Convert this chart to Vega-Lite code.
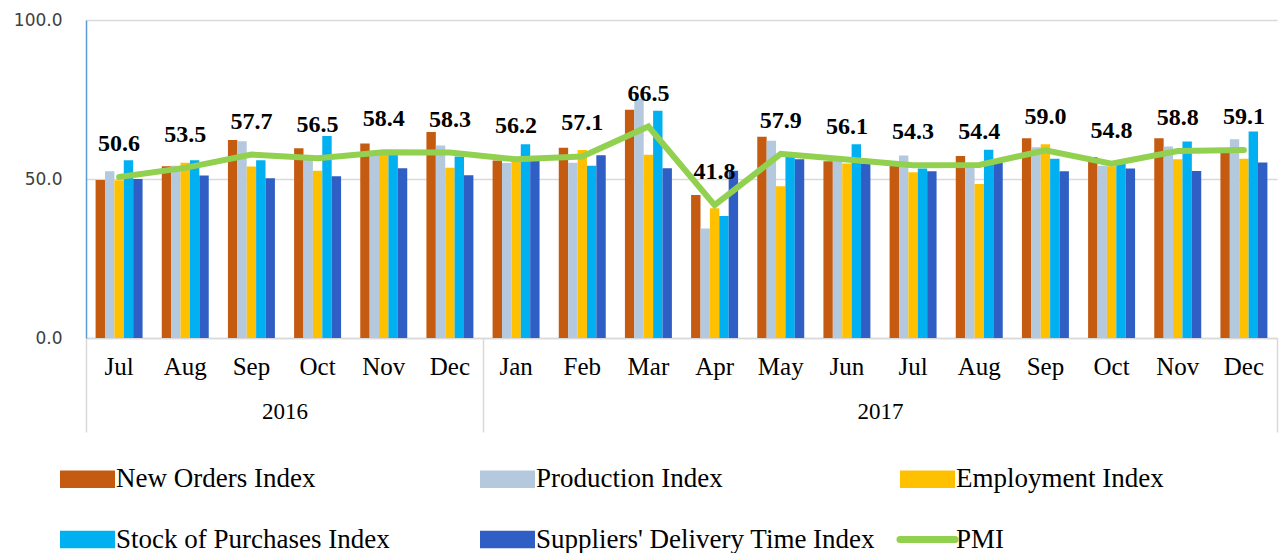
{
  "$schema": "https://vega.github.io/schema/vega-lite/v6.json",
  "width": 1191,
  "height": 318,
  "autosize": {"type": "none"},
  "padding": {"left": 86, "top": 20, "right": 5, "bottom": 215},
  "background": "white",
  "config": {"view": {"stroke": null}},
  "layer": [
    {
      "data": {"values": [
        {"period": "Jul 2016", "series": "New Orders Index", "value": 49.7},
        {"period": "Jul 2016", "series": "Production Index", "value": 52.4},
        {"period": "Jul 2016", "series": "Employment Index", "value": 49.6},
        {"period": "Jul 2016", "series": "Stock of Purchases Index", "value": 55.9},
        {"period": "Jul 2016", "series": "Suppliers' Delivery Time Index", "value": 50.0},
        {"period": "Jul 2016", "series": "PMI", "value": 50.6},
        {"period": "Aug 2016", "series": "New Orders Index", "value": 54.0},
        {"period": "Aug 2016", "series": "Production Index", "value": 54.2},
        {"period": "Aug 2016", "series": "Employment Index", "value": 55.1},
        {"period": "Aug 2016", "series": "Stock of Purchases Index", "value": 55.9},
        {"period": "Aug 2016", "series": "Suppliers' Delivery Time Index", "value": 51.1},
        {"period": "Aug 2016", "series": "PMI", "value": 53.5},
        {"period": "Sep 2016", "series": "New Orders Index", "value": 62.3},
        {"period": "Sep 2016", "series": "Production Index", "value": 61.9},
        {"period": "Sep 2016", "series": "Employment Index", "value": 53.9},
        {"period": "Sep 2016", "series": "Stock of Purchases Index", "value": 55.9},
        {"period": "Sep 2016", "series": "Suppliers' Delivery Time Index", "value": 50.2},
        {"period": "Sep 2016", "series": "PMI", "value": 57.7},
        {"period": "Oct 2016", "series": "New Orders Index", "value": 59.7},
        {"period": "Oct 2016", "series": "Production Index", "value": 56.3},
        {"period": "Oct 2016", "series": "Employment Index", "value": 52.6},
        {"period": "Oct 2016", "series": "Stock of Purchases Index", "value": 63.5},
        {"period": "Oct 2016", "series": "Suppliers' Delivery Time Index", "value": 50.9},
        {"period": "Oct 2016", "series": "PMI", "value": 56.5},
        {"period": "Nov 2016", "series": "New Orders Index", "value": 61.2},
        {"period": "Nov 2016", "series": "Production Index", "value": 58.5},
        {"period": "Nov 2016", "series": "Employment Index", "value": 57.6},
        {"period": "Nov 2016", "series": "Stock of Purchases Index", "value": 58.3},
        {"period": "Nov 2016", "series": "Suppliers' Delivery Time Index", "value": 53.4},
        {"period": "Nov 2016", "series": "PMI", "value": 58.4},
        {"period": "Dec 2016", "series": "New Orders Index", "value": 64.8},
        {"period": "Dec 2016", "series": "Production Index", "value": 60.5},
        {"period": "Dec 2016", "series": "Employment Index", "value": 53.5},
        {"period": "Dec 2016", "series": "Stock of Purchases Index", "value": 57.1},
        {"period": "Dec 2016", "series": "Suppliers' Delivery Time Index", "value": 51.2},
        {"period": "Dec 2016", "series": "PMI", "value": 58.3},
        {"period": "Jan 2017", "series": "New Orders Index", "value": 55.8},
        {"period": "Jan 2017", "series": "Production Index", "value": 55.0},
        {"period": "Jan 2017", "series": "Employment Index", "value": 55.6},
        {"period": "Jan 2017", "series": "Stock of Purchases Index", "value": 60.9},
        {"period": "Jan 2017", "series": "Suppliers' Delivery Time Index", "value": 55.7},
        {"period": "Jan 2017", "series": "PMI", "value": 56.2},
        {"period": "Feb 2017", "series": "New Orders Index", "value": 59.8},
        {"period": "Feb 2017", "series": "Production Index", "value": 55.1},
        {"period": "Feb 2017", "series": "Employment Index", "value": 59.1},
        {"period": "Feb 2017", "series": "Stock of Purchases Index", "value": 54.2},
        {"period": "Feb 2017", "series": "Suppliers' Delivery Time Index", "value": 57.5},
        {"period": "Feb 2017", "series": "PMI", "value": 57.1},
        {"period": "Mar 2017", "series": "New Orders Index", "value": 71.8},
        {"period": "Mar 2017", "series": "Production Index", "value": 75.2},
        {"period": "Mar 2017", "series": "Employment Index", "value": 57.6},
        {"period": "Mar 2017", "series": "Stock of Purchases Index", "value": 71.5},
        {"period": "Mar 2017", "series": "Suppliers' Delivery Time Index", "value": 53.4},
        {"period": "Mar 2017", "series": "PMI", "value": 66.5},
        {"period": "Apr 2017", "series": "New Orders Index", "value": 45.0},
        {"period": "Apr 2017", "series": "Production Index", "value": 34.4},
        {"period": "Apr 2017", "series": "Employment Index", "value": 40.8},
        {"period": "Apr 2017", "series": "Stock of Purchases Index", "value": 38.4},
        {"period": "Apr 2017", "series": "Suppliers' Delivery Time Index", "value": 52.6},
        {"period": "Apr 2017", "series": "PMI", "value": 41.8},
        {"period": "May 2017", "series": "New Orders Index", "value": 63.3},
        {"period": "May 2017", "series": "Production Index", "value": 62.0},
        {"period": "May 2017", "series": "Employment Index", "value": 47.7},
        {"period": "May 2017", "series": "Stock of Purchases Index", "value": 57.3},
        {"period": "May 2017", "series": "Suppliers' Delivery Time Index", "value": 56.2},
        {"period": "May 2017", "series": "PMI", "value": 57.9},
        {"period": "Jun 2017", "series": "New Orders Index", "value": 55.6},
        {"period": "Jun 2017", "series": "Production Index", "value": 56.0},
        {"period": "Jun 2017", "series": "Employment Index", "value": 54.9},
        {"period": "Jun 2017", "series": "Stock of Purchases Index", "value": 60.9},
        {"period": "Jun 2017", "series": "Suppliers' Delivery Time Index", "value": 54.8},
        {"period": "Jun 2017", "series": "PMI", "value": 56.1},
        {"period": "Jul 2017", "series": "New Orders Index", "value": 55.0},
        {"period": "Jul 2017", "series": "Production Index", "value": 57.4},
        {"period": "Jul 2017", "series": "Employment Index", "value": 52.1},
        {"period": "Jul 2017", "series": "Stock of Purchases Index", "value": 53.3},
        {"period": "Jul 2017", "series": "Suppliers' Delivery Time Index", "value": 52.4},
        {"period": "Jul 2017", "series": "PMI", "value": 54.3},
        {"period": "Aug 2017", "series": "New Orders Index", "value": 57.2},
        {"period": "Aug 2017", "series": "Production Index", "value": 54.6},
        {"period": "Aug 2017", "series": "Employment Index", "value": 48.4},
        {"period": "Aug 2017", "series": "Stock of Purchases Index", "value": 59.2},
        {"period": "Aug 2017", "series": "Suppliers' Delivery Time Index", "value": 55.0},
        {"period": "Aug 2017", "series": "PMI", "value": 54.4},
        {"period": "Sep 2017", "series": "New Orders Index", "value": 62.8},
        {"period": "Sep 2017", "series": "Production Index", "value": 60.0},
        {"period": "Sep 2017", "series": "Employment Index", "value": 60.9},
        {"period": "Sep 2017", "series": "Stock of Purchases Index", "value": 56.4},
        {"period": "Sep 2017", "series": "Suppliers' Delivery Time Index", "value": 52.4},
        {"period": "Sep 2017", "series": "PMI", "value": 59.0},
        {"period": "Oct 2017", "series": "New Orders Index", "value": 56.9},
        {"period": "Oct 2017", "series": "Production Index", "value": 54.2},
        {"period": "Oct 2017", "series": "Employment Index", "value": 54.0},
        {"period": "Oct 2017", "series": "Stock of Purchases Index", "value": 55.2},
        {"period": "Oct 2017", "series": "Suppliers' Delivery Time Index", "value": 53.3},
        {"period": "Oct 2017", "series": "PMI", "value": 54.8},
        {"period": "Nov 2017", "series": "New Orders Index", "value": 62.8},
        {"period": "Nov 2017", "series": "Production Index", "value": 60.2},
        {"period": "Nov 2017", "series": "Employment Index", "value": 56.2},
        {"period": "Nov 2017", "series": "Stock of Purchases Index", "value": 61.8},
        {"period": "Nov 2017", "series": "Suppliers' Delivery Time Index", "value": 52.5},
        {"period": "Nov 2017", "series": "PMI", "value": 58.8},
        {"period": "Dec 2017", "series": "New Orders Index", "value": 59.5},
        {"period": "Dec 2017", "series": "Production Index", "value": 62.5},
        {"period": "Dec 2017", "series": "Employment Index", "value": 56.4},
        {"period": "Dec 2017", "series": "Stock of Purchases Index", "value": 64.9},
        {"period": "Dec 2017", "series": "Suppliers' Delivery Time Index", "value": 55.2},
        {"period": "Dec 2017", "series": "PMI", "value": 59.1}
      ]},
      "layer": [
        {
          "transform": [{"filter": "datum.series !== 'PMI'"}],
          "mark": {"type": "bar"},
          "encoding": {
            "x": {
              "field": "period", "type": "nominal",
              "scale": {"domain": ["Jul 2016","Aug 2016","Sep 2016","Oct 2016","Nov 2016","Dec 2016","Jan 2017","Feb 2017","Mar 2017","Apr 2017","May 2017","Jun 2017","Jul 2017","Aug 2017","Sep 2017","Oct 2017","Nov 2017","Dec 2017"], "paddingInner": 0.29, "paddingOuter": 0.145},
              "axis": {"title": null, "labelExpr": "split(datum.value, ' ')[0]", "labelAngle": 0, "ticks": false, "labelPadding": 16, "labelFont": "Liberation Serif", "labelFontSize": 25, "labelColor": "#000000", "domainColor": "#D9D9D9", "domainWidth": 1.5, "grid": false, "orient": "bottom"}
            },
            "xOffset": {"field": "series", "type": "nominal", "scale": {"domain": ["New Orders Index","Production Index","Employment Index","Stock of Purchases Index","Suppliers' Delivery Time Index"], "paddingInner": 0, "paddingOuter": 0}},
            "y": {
              "field": "value", "type": "quantitative",
              "scale": {"domain": [0, 100], "nice": false},
              "axis": {"title": null, "values": [0, 50, 100], "format": ".1f", "labelFont": "DejaVu Sans", "labelFontSize": 17, "labelColor": "#404040", "labelPadding": 24, "ticks": false, "domainColor": "#5B9BD5", "domainWidth": 1.5, "gridColor": "#D9D9D9", "gridWidth": 1.5}
            },
            "color": {
              "field": "series", "type": "nominal",
              "scale": {"domain": ["New Orders Index","Production Index","Employment Index","Stock of Purchases Index","Suppliers' Delivery Time Index","PMI"], "range": ["#C55A11","#B4C8DE","#FFC000","#00B0F0","#2F5EC4","#92D050"]},
              "legend": {
                "title": null, "orient": "none", "legendX": -12, "legendY": 445, "columns": 3, "direction": "horizontal", "gridAlign": "all",
                "labelFont": "Liberation Serif", "labelFontSize": 27, "labelColor": "#000000", "labelLimit": 600, "labelOffset": 15,
                "symbolType": "M-1,-0.32L1,-0.32L1,0.32L-1,0.32Z", "symbolSize": 3025, "symbolStrokeWidth": 0,
                "columnPadding": 10, "rowPadding": 32,
                "encode": {"symbols": {"update": {
                  "shape": {"signal": "datum.value === 'PMI' ? 'stroke' : 'M-1,-0.32L1,-0.32L1,0.32L-1,0.32Z'"},
                  "fill": {"signal": "datum.value === 'PMI' ? 'transparent' : scale('color', datum.value)"},
                  "stroke": {"signal": "datum.value === 'PMI' ? scale('color', datum.value) : 'transparent'"},
                  "strokeWidth": {"signal": "datum.value === 'PMI' ? 7 : 0"},
                  "strokeCap": {"value": "round"},
                  "opacity": {"value": 1}
                }}}
              }
            }
          }
        },
        {
          "transform": [{"filter": "datum.series === 'PMI'"}],
          "mark": {"type": "line", "strokeWidth": 6, "strokeCap": "round", "strokeJoin": "miter"},
          "encoding": {
            "x": {"field": "period", "type": "nominal"},
            "y": {"field": "value", "type": "quantitative"},
            "color": {"field": "series", "type": "nominal"}
          }
        },
        {
          "transform": [{"filter": "datum.series === 'PMI'"}],
          "mark": {"type": "text", "dy": -33, "font": "Liberation Serif", "fontSize": 24, "fontWeight": "bold", "color": "#000000"},
          "encoding": {
            "x": {"field": "period", "type": "nominal"},
            "y": {"field": "value", "type": "quantitative"},
            "text": {"field": "value", "type": "quantitative", "format": ".1f"}
          }
        }
      ]
    },
    {
      "data": {"values": [{}]},
      "mark": {"type": "point", "opacity": 0},
      "encoding": {
        "x": {"datum": 0, "type": "quantitative", "scale": {"domain": [0, 18], "nice": false, "zero": false},
          "axis": {"orient": "bottom", "offset": 0, "values": [0, 6, 18], "labels": false, "ticks": true, "tickSize": 94, "tickColor": "#D9D9D9", "tickWidth": 1.5, "domain": false, "grid": false, "title": null}}
      }
    },
    {
      "data": {"values": [{}]},
      "mark": {"type": "point", "opacity": 0},
      "encoding": {
        "x": {"datum": 0, "type": "quantitative", "scale": {"domain": [0, 18], "nice": false, "zero": false},
          "axis": {"orient": "bottom", "offset": 0, "values": [3, 12], "labelExpr": "datum.value == 3 ? '2016' : '2017'", "ticks": false, "domain": false, "grid": false, "title": null, "labelPadding": 62, "labelFont": "Liberation Serif", "labelFontSize": 23, "labelColor": "#000000", "labelFlush": false, "labelOverlap": false}}
      }
    }
  ],
  "resolve": {"scale": {"x": "independent"}, "axis": {"x": "independent"}}
}
